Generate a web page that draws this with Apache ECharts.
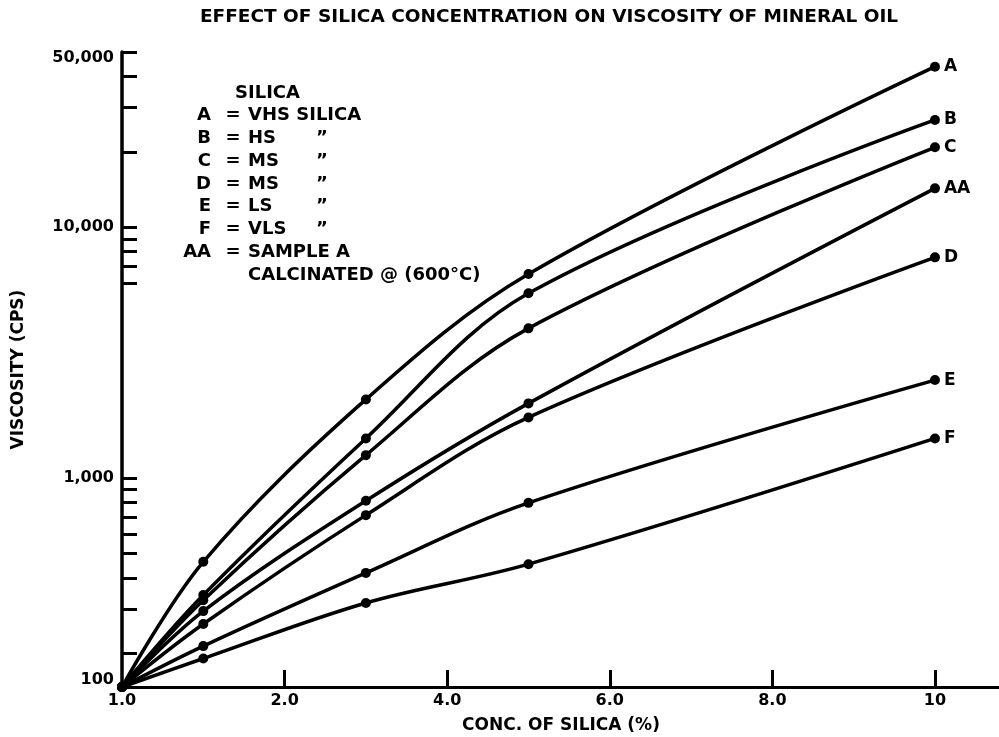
<!DOCTYPE html>
<html><head><meta charset="utf-8">
<script src="https://cdn.jsdelivr.net/npm/echarts@6/dist/echarts.min.js"></script>
<style>html,body{margin:0;padding:0;background:#fff}#c{width:999px;height:737px}</style>
</head><body><div id="c"></div>
<script>
// ---- data ----
const concentration = [0, 1, 3, 5, 10];
const seriesNames = ['A', 'B', 'C', 'AA', 'D', 'E', 'F'];
const viscA  = [147, 464, 2060, 6510, 43700];
const viscB  = [147, 342, 1440, 5455, 26800];
const viscC  = [147, 326, 1235, 3955, 20850];
const viscAA = [147, 295, 812, 1986, 14300];
const viscD  = [147, 262, 712, 1746, 7590];
const viscE  = [147, 214, 419, 797, 2460];
const viscF  = [147, 191, 318, 454, 1440];

const yLabelValues = [147, 1000, 10000, 50000];
const yTickLabels = ['100', '1,000', '10,000', '50,000'];
const yTickValues = [200, 300, 400, 500, 600, 700, 800, 900, 1000, 6000, 7000, 8000, 9000, 10000, 20000, 30000, 40000, 50000];
const xLabelValues = [0, 2, 4, 6, 8, 10];
const xTickLabels = ['1.0', '2.0', '4.0', '6.0', '8.0', '10'];
const xTickValues = [2, 4, 6, 8, 10];

const legendHeader = 'SILICA';
const legendKeys = ['A', 'B', 'C', 'D', 'E', 'F', 'AA'];
const legendDescs = ['VHS SILICA', 'HS', 'MS', 'MS', 'LS', 'VLS', 'SAMPLE A'];
const legendDitto = ['', '\u201D', '\u201D', '\u201D', '\u201D', '\u201D', ''];
const legendExtra = 'CALCINATED @ (600\u00B0C)';

const titleText = 'EFFECT OF SILICA CONCENTRATION ON VISCOSITY OF MINERAL OIL';
const xName = 'CONC. OF SILICA (%)';
const yName = 'VISCOSITY (CPS)';

// ---- build ----
const FONT = '"DejaVu Sans", sans-serif';
const values = { A: viscA, B: viscB, C: viscC, AA: viscAA, D: viscD, E: viscE, F: viscF };
const series = seriesNames.map(n => ({
  name: n, type: 'line', smooth: 0.35,
  data: concentration.map((x, i) => [x, values[n][i]]),
  symbol: 'circle', symbolSize: 10,
  lineStyle: { color: '#000', width: 3.5 },
  itemStyle: { color: '#000' },
  endLabel: { show: true, formatter: n, color: '#000', fontFamily: FONT, fontWeight: 'bold', fontSize: 17, distance: 9 }
}));

const rowY0 = 93, rowStep = 22.75;
const legFont = 'bold 18px ' + FONT;
const graphics = [];
graphics.push({ type: 'text', x: 235, y: rowY0, style: { text: legendHeader, font: legFont, fill: '#000', align: 'left', verticalAlign: 'middle' } });
legendKeys.forEach((k, i) => {
  const y = rowY0 + rowStep * (i + 1);
  graphics.push({ type: 'text', x: 211, y, style: { text: k, font: legFont, fill: '#000', align: 'right', verticalAlign: 'middle' } });
  graphics.push({ type: 'text', x: 233, y, style: { text: '=', font: legFont, fill: '#000', align: 'center', verticalAlign: 'middle' } });
  graphics.push({ type: 'text', x: 248, y, style: { text: legendDescs[i], font: legFont, fill: '#000', align: 'left', verticalAlign: 'middle' } });
  if (legendDitto[i]) graphics.push({ type: 'text', x: 316, y, style: { text: legendDitto[i], font: legFont, fill: '#000', align: 'left', verticalAlign: 'middle' } });
});
graphics.push({ type: 'text', x: 248, y: rowY0 + rowStep * 8, style: { text: legendExtra, font: legFont, fill: '#000', align: 'left', verticalAlign: 'middle' } });

const chart = echarts.init(document.getElementById('c'), null, { renderer: 'canvas' });
chart.setOption({
  backgroundColor: '#fff',
  animation: false,
  title: { text: titleText, left: 549, top: 8, textAlign: 'center', padding: 0,
    textStyle: { fontFamily: FONT, fontWeight: 'bold', fontSize: 18.5, color: '#000' } },
  grid: { left: 122, top: 52, width: 878, height: 635, containLabel: false, outerBoundsMode: 'none' },
  xAxis: {
    type: 'value', min: 0, max: 10.8,
    name: xName, nameLocation: 'middle', nameGap: 30,
    nameTextStyle: { fontFamily: FONT, fontWeight: 'bold', fontSize: 17, color: '#000' },
    axisLine: { lineStyle: { color: '#000', width: 3 } },
    axisTick: { inside: true, length: 17, customValues: xTickValues, lineStyle: { color: '#000', width: 3 } },
    axisLabel: { customValues: xLabelValues, margin: 6, color: '#000', fontFamily: FONT, fontWeight: 'bold', fontSize: 16,
      formatter: v => xTickLabels[xLabelValues.indexOf(v)] },
    splitLine: { show: false }
  },
  yAxis: {
    type: 'log', logBase: 10, min: yLabelValues[0], max: 50000,
    name: yName, nameLocation: 'middle', nameGap: 95, nameRotate: 90,
    nameTextStyle: { fontFamily: FONT, fontWeight: 'bold', fontSize: 17, color: '#000' },
    axisLine: { show: true, lineStyle: { color: '#000', width: 3.5 } },
    axisTick: { show: true, inside: true, length: 15, customValues: yTickValues, lineStyle: { color: '#000', width: 3 } },
    axisLabel: { customValues: yLabelValues, margin: 8, color: '#000', fontFamily: FONT, fontWeight: 'bold', fontSize: 16,
      formatter: v => {
        let i = yLabelValues.findIndex(t => Math.abs(t - v) / t < 1e-6);
        if (i < 0) return '';
        if (i === 0) return '{lo|' + yTickLabels[i] + '}';
        if (i === yLabelValues.length - 1) return '{hi|' + yTickLabels[i] + '}';
        return yTickLabels[i];
      },
      rich: {
        lo: { padding: [0, 0, 14, 0], fontFamily: FONT, fontWeight: 'bold', fontSize: 16, color: '#000' },
        hi: { padding: [12, 0, 0, 0], fontFamily: FONT, fontWeight: 'bold', fontSize: 16, color: '#000' }
      }
    },
    splitLine: { show: false }
  },
  graphic: graphics,
  series: series
});
</script>
</body></html>
